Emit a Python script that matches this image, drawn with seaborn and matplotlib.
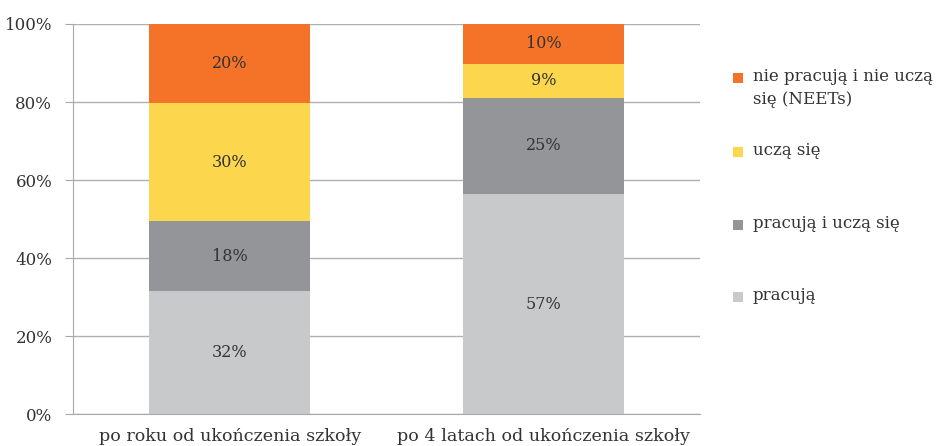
import pandas as pd
import matplotlib.pyplot as plt
import seaborn as sns
from matplotlib.patches import Rectangle

# dane
okresy = ['po roku od ukończenia szkoły', 'po 4 latach od ukończenia szkoły']
grupy = ['pracują', 'pracują i uczą się', 'uczą się', 'nie pracują i nie uczą\nsię (NEETs)']
pracuja = [31.6, 56.4]
pracuja_i_ucza = [17.8, 24.7]
ucza = [30.4, 8.7]
neets = [20.2, 10.2]
etykiety = [['32%', '57%'], ['18%', '25%'], ['30%', '9%'], ['20%', '10%']]
kolory = ['#c8c9cb', '#939598', '#fcd64d', '#f47328']

df = pd.DataFrame({'okres': okresy, grupy[0]: pracuja, grupy[1]: pracuja_i_ucza,
                   grupy[2]: ucza, grupy[3]: neets})

sns.set_style('white')
plt.rcParams['font.family'] = ['DejaVu Serif']
tekst = '#333333'

fig = plt.figure(figsize=(9.4, 4.46), dpi=100)
ax = fig.add_axes([0.0777, 0.0717, 0.6673, 0.8745])

dol = [0.0, 0.0]
for i, g in enumerate(grupy):
    sns.barplot(data=df, x='okres', y=g, color=kolory[i], bottom=dol, width=0.513,
                saturation=1, ax=ax, linewidth=0)
    kont = ax.containers[-1]
    ax.bar_label(kont, labels=etykiety[i], label_type='center', fontsize=11.5, color=tekst)
    dol = [d + v for d, v in zip(dol, df[g])]

ax.set_xlim(-0.5, 1.5)
ax.set_ylim(0, 100)
ax.set_yticks(range(0, 101, 20))
ax.set_yticklabels([f'{v}%' for v in range(0, 101, 20)], fontsize=12, color=tekst)
ax.set_xticks([0, 1])
ax.set_xticklabels(okresy, fontsize=12.6, color=tekst)
ax.set_xlabel('')
ax.set_ylabel('')
ax.yaxis.grid(True, color='#b0b0b0', linewidth=1)
ax.set_axisbelow(True)
for s in ['top', 'right']:
    ax.spines[s].set_visible(False)
for s in ['left', 'bottom']:
    ax.spines[s].set_color('#a8a8a8')
ax.tick_params(axis='y', length=6, color='#a8a8a8', direction='out', left=True, pad=9)
ax.tick_params(axis='x', length=0, pad=10)

# legenda rysowana ręcznie (kwadrat wyrównany do pierwszej linii opisu)
W, H = 940, 446
srodki = [78, 152, 225, 297]
for yc, i in zip(srodki, range(3, -1, -1)):
    fig.add_artist(Rectangle((733 / W, 1 - (yc + 5) / H), 10 / W, 10 / H,
                             transform=fig.transFigure, color=kolory[i], lw=0))
    fig.text(753 / W, 1 - (yc - 10) / H, grupy[i], va='top', ha='left',
             fontsize=12, color=tekst, linespacing=1.45)

fig.savefig('out.png', dpi=100)
